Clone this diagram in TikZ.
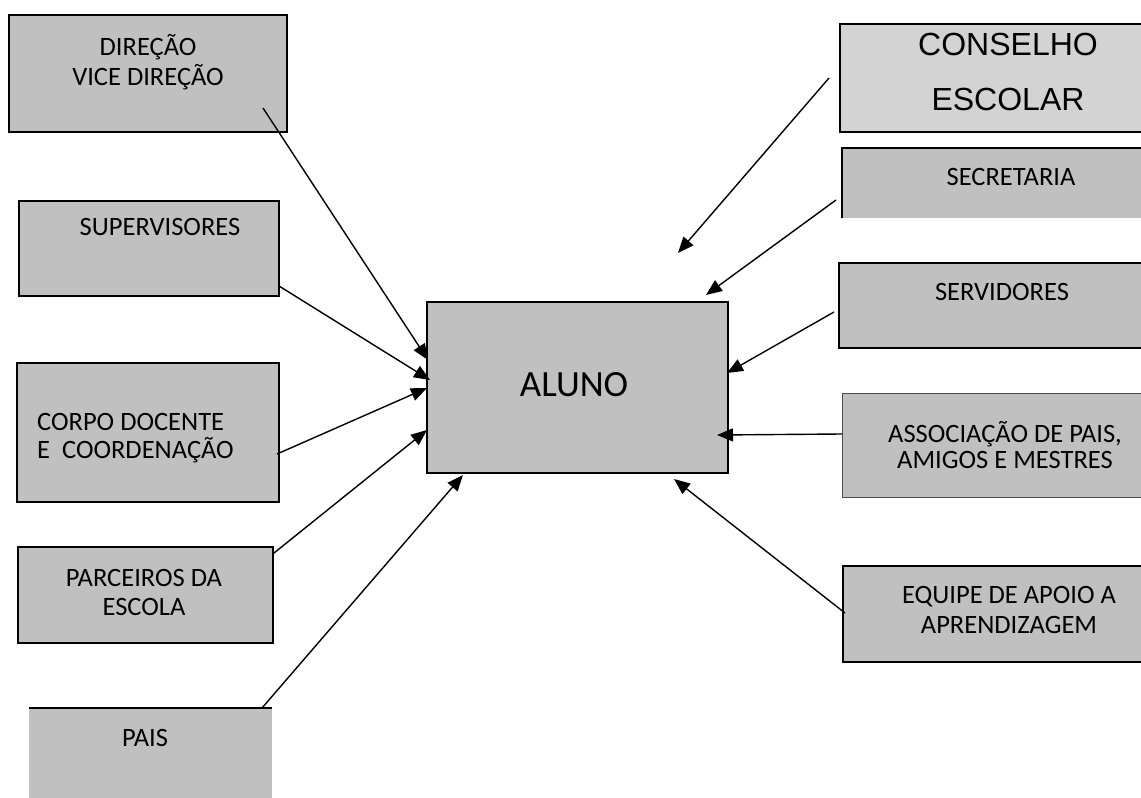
\documentclass[tikz,border=0pt]{standalone}
\usepackage{fontspec}
\setmainfont{Carlito}
\newfontfamily\arialfont{Liberation Sans}
\usepackage{xcolor}
\usepackage{tikz}
\usetikzlibrary{arrows.meta, positioning}
\definecolor{boxgray}{HTML}{C0C0C0}
\definecolor{lightgray}{HTML}{D3D3D3}

\begin{document}
\begin{tikzpicture}[x=1pt, y=-1pt,
  box/.style={shape=rectangle, draw=black, line width=1.5pt, fill=boxgray, inner sep=0pt},
  plainbox/.style={shape=rectangle, draw=none, fill=boxgray, inner sep=0pt},
  label/.style={align=center, inner sep=0pt, font=\fontsize{26.5}{30}\selectfont},
  link/.style={draw=black, line width=1.4pt, -{Triangle[length=16pt, width=13pt]}}
]
	\useasboundingbox (0,0) rectangle (1141,798);
	\clip (0,0) rectangle (1141,798);

%------------- Aluno
	\node[box, minimum width=301, minimum height=171] (Aluno) at (577.5, 387.5) {};
	\node[label, font=\fontsize{37}{40}\selectfont] (Aluno_T) at (574, 385) {ALUNO};

%------------- Left side
	\node[box, minimum width=278, minimum height=117] (Dir) at (148, 73.5) {};
	\node[label] (Dir_T) at (148, 62) {DIREÇÃO\\VICE DIREÇÃO};

	\node[box, minimum width=260, minimum height=95] (Sup) at (149, 248.5) {};
	\node[label] (Sup_T) at (160, 227) {SUPERVISORES};

	\node[box, minimum width=262, minimum height=139] (Corpo) at (148, 432.5) {};
	\node[label, align=left, anchor=west, font=\fontsize{26.5}{28}\selectfont] (Corpo_T) at (37, 438) {CORPO DOCENTE\\E\ \ COORDENAÇÃO};

	\node[box, minimum width=255, minimum height=96] (Parc) at (145.5, 595) {};
	\node[label, font=\fontsize{26.5}{29}\selectfont] (Parc_T) at (144, 592) {PARCEIROS DA\\ESCOLA};

	\node[plainbox, minimum width=243, minimum height=124] (Pais) at (150.5, 770) {};
	\draw[line width=1.5pt] (Pais.north west) -- (Pais.north east);
	\node[label] (Pais_T) at (145, 738) {PAIS};

%------------- Right side
	\node[box, fill=lightgray, minimum width=340, minimum height=108] (Cons) at (1010, 78) {};
	\node[label, font=\arialfont\fontsize{32}{55}\selectfont] (Cons_T) at (1008, 72) {CONSELHO\\ESCOLAR};

	\node[plainbox, minimum width=338, minimum height=70] (Sec) at (1011, 183) {};
	\draw[line width=1.5pt] (Sec.south west) |- (Sec.north east);
	\node[label] (Sec_T) at (1011, 177) {SECRETARIA};

	\node[box, minimum width=341, minimum height=85] (Serv) at (1009.5, 305.5) {};
	\node[label] (Serv_T) at (1002, 292) {SERVIDORES};

	\node[box, draw=black!70, line width=1pt, minimum width=338, minimum height=104] (Assoc) at (1011, 445) {};
	\node[label, font=\fontsize{26.5}{26}\selectfont] (Assoc_T) at (1005, 445) {ASSOCIAÇÃO DE PAIS,\\AMIGOS E MESTRES};

	\node[box, minimum width=337, minimum height=96] (Equipe) at (1011.5, 614) {};
	\node[label] (Equipe_T) at (1009, 610) {EQUIPE DE APOIO A\\APRENDIZAGEM};

%------------- Arrows
	\coordinate (Dir_S) at (263, 108);
	\coordinate (Dir_E) at (428, 360);
	\coordinate (Sup_S) at (279, 286);
	\coordinate (Sup_E) at (430, 380);
	\coordinate (Corpo_S) at (277, 454);
	\coordinate (Corpo_E) at (427, 388);
	\coordinate (Parc_S) at (274, 553);
	\coordinate (Parc_E) at (427, 430);
	\coordinate (Pais_S) at (262, 708);
	\coordinate (Pais_E) at (463, 475);

	\coordinate (Cons_S) at (829, 78);
	\coordinate (Cons_E) at (678, 253);
	\coordinate (Sec_S) at (836, 200);
	\coordinate (Sec_E) at (706, 295);
	\coordinate (Serv_S) at (834, 312);
	\coordinate (Serv_E) at (727, 373);
	\coordinate (Assoc_S) at (842, 434);
	\coordinate (Assoc_E) at (717, 435);
	\coordinate (Equipe_S) at (845, 613);
	\coordinate (Equipe_E) at (674, 479);

	\draw[link] (Dir_S) -- (Dir_E);
	\draw[link] (Sup_S) -- (Sup_E);
	\draw[link] (Corpo_S) -- (Corpo_E);
	\draw[link] (Parc_S) -- (Parc_E);
	\draw[link] (Pais_S) -- (Pais_E);
	\draw[link] (Cons_S) -- (Cons_E);
	\draw[link] (Sec_S) -- (Sec_E);
	\draw[link] (Serv_S) -- (Serv_E);
	\draw[link] (Assoc_S) -- (Assoc_E);
	\draw[link] (Equipe_S) -- (Equipe_E);

\end{tikzpicture}
\end{document}
